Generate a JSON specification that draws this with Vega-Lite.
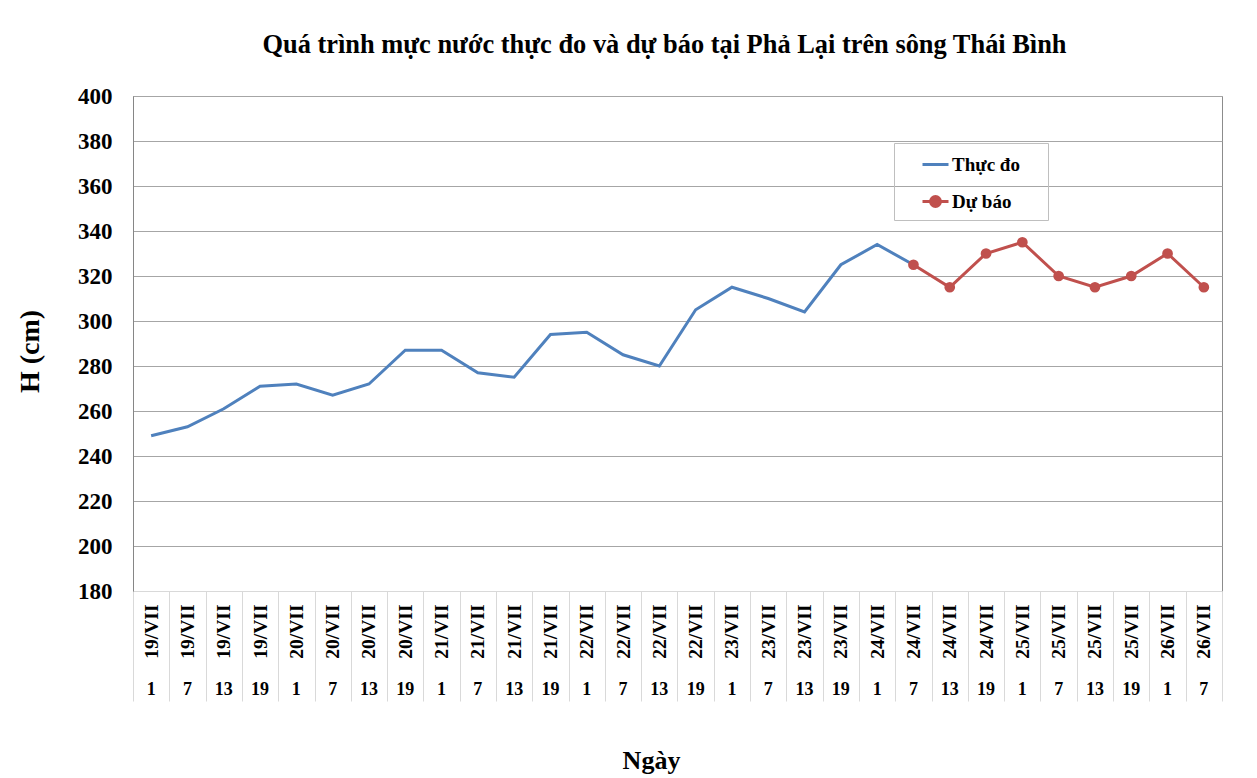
{
  "$schema": "https://vega.github.io/schema/vega-lite/v6.json",
  "width": 1089,
  "height": 495,
  "autosize": {"type": "none"},
  "padding": {"left": 133, "top": 96, "right": 35, "bottom": 187},
  "background": "white",
  "title": {
    "text": "Quá trình mực nước thực đo và dự báo tại Phả Lại trên sông Thái Bình",
    "font": "Liberation Serif",
    "fontSize": 26.4,
    "fontWeight": "bold",
    "color": "black",
    "anchor": "middle",
    "frame": "group",
    "dx": -13,
    "baseline": "alphabetic",
    "offset": 6
  },
  "config": {
    "view": {"stroke": "#8c8c8c", "strokeWidth": 1},
    "font": "Liberation Serif"
  },
  "data": {
    "values": [
      {"k": "19/VII|1", "H": 249, "s": "Thực đo"},
      {"k": "19/VII|7", "H": 253, "s": "Thực đo"},
      {"k": "19/VII|13", "H": 261, "s": "Thực đo"},
      {"k": "19/VII|19", "H": 271, "s": "Thực đo"},
      {"k": "20/VII|1", "H": 272, "s": "Thực đo"},
      {"k": "20/VII|7", "H": 267, "s": "Thực đo"},
      {"k": "20/VII|13", "H": 272, "s": "Thực đo"},
      {"k": "20/VII|19", "H": 287, "s": "Thực đo"},
      {"k": "21/VII|1", "H": 287, "s": "Thực đo"},
      {"k": "21/VII|7", "H": 277, "s": "Thực đo"},
      {"k": "21/VII|13", "H": 275, "s": "Thực đo"},
      {"k": "21/VII|19", "H": 294, "s": "Thực đo"},
      {"k": "22/VII|1", "H": 295, "s": "Thực đo"},
      {"k": "22/VII|7", "H": 285, "s": "Thực đo"},
      {"k": "22/VII|13", "H": 280, "s": "Thực đo"},
      {"k": "22/VII|19", "H": 305, "s": "Thực đo"},
      {"k": "23/VII|1", "H": 315, "s": "Thực đo"},
      {"k": "23/VII|7", "H": 310, "s": "Thực đo"},
      {"k": "23/VII|13", "H": 304, "s": "Thực đo"},
      {"k": "23/VII|19", "H": 325, "s": "Thực đo"},
      {"k": "24/VII|1", "H": 334, "s": "Thực đo"},
      {"k": "24/VII|7", "H": 325, "s": "Thực đo"},
      {"k": "24/VII|7", "H": 325, "s": "Dự báo"},
      {"k": "24/VII|13", "H": 315, "s": "Dự báo"},
      {"k": "24/VII|19", "H": 330, "s": "Dự báo"},
      {"k": "25/VII|1", "H": 335, "s": "Dự báo"},
      {"k": "25/VII|7", "H": 320, "s": "Dự báo"},
      {"k": "25/VII|13", "H": 315, "s": "Dự báo"},
      {"k": "25/VII|19", "H": 320, "s": "Dự báo"},
      {"k": "26/VII|1", "H": 330, "s": "Dự báo"},
      {"k": "26/VII|7", "H": 315, "s": "Dự báo"}
    ]
  },
  "resolve": {"axis": {"x": "independent"}},
  "layer": [
    {
      "mark": {"type": "line", "strokeWidth": 3},
      "encoding": {
        "x": {
          "field": "k", "type": "nominal", "sort": null,
          "scale": {"paddingInner": 0, "paddingOuter": 0},
          "axis": {
            "orient": "bottom",
            "title": "Ngày",
            "titleFont": "Liberation Serif", "titleFontSize": 26, "titleFontWeight": "bold", "titleColor": "black",
            "titleX": 518, "titleY": 177, "titleBaseline": "alphabetic", "titleAlign": "center",
            "labelExpr": "datum.value ? split(datum.value, '|')[0] : ''",
            "labelAngle": 270, "labelAlign": "right", "labelBaseline": "middle",
            "labelFont": "Liberation Serif", "labelFontSize": 19.5, "labelFontWeight": "bold", "labelColor": "black",
            "labelPadding": -97, "labelOverlap": false, "labelBound": false,
            "ticks": true, "tickBand": "extent", "tickSize": 110, "tickColor": "#d9d9d9", "tickWidth": 1,
            "domain": true, "domainColor": "#d9d9d9", "domainWidth": 1,
            "grid": false
          }
        },
        "y": {
          "field": "H", "type": "quantitative",
          "scale": {"domain": [180, 400], "nice": false, "zero": false},
          "axis": {
            "title": "H (cm)",
            "titleFont": "Liberation Serif", "titleFontSize": 28, "titleFontWeight": "bold", "titleColor": "black",
            "titleAngle": 270, "titleX": -103, "titleY": 255, "titleAlign": "center", "titleBaseline": "middle",
            "values": [180, 200, 220, 240, 260, 280, 300, 320, 340, 360, 380, 400],
            "labelFont": "Liberation Serif", "labelFontSize": 23, "labelFontWeight": "bold", "labelColor": "black",
            "labelPadding": 21, "ticks": false,
            "domain": true, "domainColor": "#868686", "domainWidth": 1,
            "grid": true, "gridColor": "#a6a6a6", "gridWidth": 1.2
          }
        },
        "color": {
          "field": "s", "type": "nominal",
          "scale": {"domain": ["Thực đo", "Dự báo"], "range": ["#4f81bd", "#c0504d"]},
          "legend": {
            "title": null,
            "orient": "none", "legendX": 761, "legendY": 47,
            "direction": "vertical",
            "padding": 7,
            "strokeColor": "#bfbfbf", "fillColor": null,
            "symbolSize": 676, "symbolStrokeWidth": 3,
            "symbolOffset": 20, "labelOffset": 2,
            "rowPadding": 12,
            "labelFont": "Liberation Serif", "labelFontSize": 19, "labelFontWeight": "bold", "labelColor": "black",
            "encode": {
              "symbols": {
                "update": {
                  "shape": {"signal": "datum.value === 'Dự báo' ? 'M-1,0H1M-0.38,0A0.38,0.38 0 1,0 0.38,0A0.38,0.38 0 1,0 -0.38,0M7.64,0' : 'M-1,0H1M7.64,0'"},
                  "fill": {"signal": "datum.value === 'Dự báo' ? '#c0504d' : 'transparent'"},
                  "stroke": {"signal": "datum.value === 'Dự báo' ? '#c0504d' : '#4f81bd'"},
                  "strokeWidth": {"value": 3},
                  "opacity": {"value": 1}
                }
              }
            }
          }
        }
      }
    },
    {
      "transform": [{"filter": "datum.s === 'Dự báo'"}],
      "mark": {"type": "point", "filled": true, "size": 115, "opacity": 1, "color": "#c0504d"},
      "encoding": {
        "x": {
          "field": "k", "type": "nominal", "sort": null,
          "axis": {
            "orient": "bottom",
            "title": null,
            "labelExpr": "split(datum.value, '|')[1]",
            "labelAngle": 0, "labelAlign": "center", "labelBaseline": "middle",
            "labelFont": "Liberation Serif", "labelFontSize": 18, "labelFontWeight": "bold", "labelColor": "black",
            "labelPadding": 98, "labelOverlap": false,
            "ticks": false, "domain": false, "grid": false
          }
        },
        "y": {"field": "H", "type": "quantitative"}
      }
    }
  ]
}
